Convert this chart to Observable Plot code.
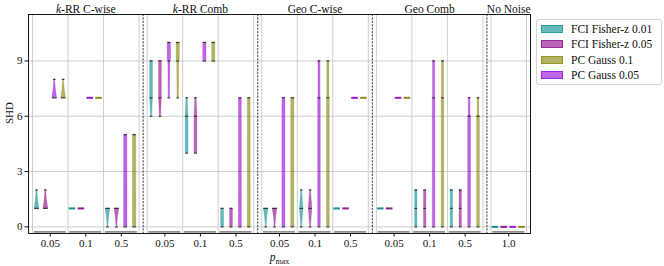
<!DOCTYPE html>
<html><head><meta charset="utf-8">
<script src="https://cdn.jsdelivr.net/npm/d3@7"></script>
<script src="https://cdn.jsdelivr.net/npm/@observablehq/plot@0.6"></script>
<style>
body{margin:0;background:#fff;}
#wrap{position:relative;width:664px;height:266px;font-family:"Liberation Serif",serif;}
#legend{position:absolute;left:536px;top:19px;width:124px;height:64px;border:1px solid #d4d4d4;border-radius:3px;background:#fff;}
.row{position:absolute;left:4px;height:15px;display:flex;align-items:center;font-size:11.5px;color:#111;white-space:nowrap;}
.sw{width:22px;height:8px;margin-right:8px;box-sizing:border-box;}
</style></head><body><div id="wrap"></div>
<script>
// ---- data ----
const groups = ["k-RR C-wise", "k-RR Comb", "Geo C-wise", "Geo Comb", "No Noise"];
const pmaxLevels = [["0.05","0.1","0.5"],["0.05","0.1","0.5"],["0.05","0.1","0.5"],["0.05","0.1","0.5"],["1.0"]];
const methodKeys = ["F01","F05","P10","P05"];
const methodLabels = ["FCI Fisher-z 0.01","FCI Fisher-z 0.05","PC Gauss 0.1","PC Gauss 0.05"];
const methodColors = ["#008b8b","#8b008b","#808000","#9400d3"];
const slotOrder = ["F01","F05","P05","P10"];
const yTicks = [0,3,6,9];

// [pmax, method, violin profile [SHD, relative width], marker SHD values]
const kRRCwise = [
  ["0.05","F01",[[1,1],[1.5,0.45],[2,0.15]],[1,2]],
  ["0.05","F05",[[1,1],[1.5,0.45],[2,0.15]],[1,2]],
  ["0.05","P05",[[7,1],[7.5,0.45],[8,0.15]],[7,8]],
  ["0.05","P10",[[7,1],[7.5,0.45],[8,0.15]],[7,8]],
  ["0.1","F01",[[1]],[]],
  ["0.1","F05",[[1]],[]],
  ["0.1","P05",[[7]],[]],
  ["0.1","P10",[[7]],[]],
  ["0.5","F01",[[0,0.15],[0.5,0.45],[1,1]],[0,1]],
  ["0.5","F05",[[0,0.15],[0.5,0.45],[1,1]],[0,1]],
  ["0.5","P05",[[0,0.72],[5,0.7]],[0,5]],
  ["0.5","P10",[[0,0.75],[5,0.72]],[0,5]]
];
const kRRComb = [
  ["0.05","F01",[[6,0.25],[7,0.6],[9,0.6]],[6,7,9]],
  ["0.05","F05",[[6,0.25],[7,0.6],[9,0.6]],[6,7,9]],
  ["0.05","P05",[[7,0.3],[8.9,0.4],[9.1,0.7],[10,0.7]],[7,9,10]],
  ["0.05","P10",[[7,0.3],[8.9,0.4],[9.1,0.7],[10,0.7]],[7,9,10]],
  ["0.1","F01",[[4,0.6],[6,0.6],[6.9,0.3],[7,0.25]],[4,6,7]],
  ["0.1","F05",[[4,0.6],[6,0.6],[6.9,0.3],[7,0.25]],[4,6,7]],
  ["0.1","P05",[[9,0.7],[10,0.7]],[9,10]],
  ["0.1","P10",[[9,0.7],[10,0.7]],[9,10]],
  ["0.5","F01",[[0,0.6],[1,0.6]],[0,1]],
  ["0.5","F05",[[0,0.6],[1,0.6]],[0,1]],
  ["0.5","P05",[[0,0.65],[7,0.6]],[0,7]],
  ["0.5","P10",[[0,0.65],[7,0.6]],[0,7]]
];
const geoCwise = [
  ["0.05","F01",[[0,0.15],[0.5,0.45],[1,1]],[0,1]],
  ["0.05","F05",[[0,0.15],[0.5,0.45],[1,1]],[0,1]],
  ["0.05","P05",[[0,0.65],[7,0.65]],[0,7]],
  ["0.05","P10",[[0,0.7],[7,0.7]],[0,7]],
  ["0.1","F01",[[0,0.15],[1,0.75],[2,0.15]],[0,1,2]],
  ["0.1","F05",[[0,0.15],[1,0.75],[2,0.15]],[0,1,2]],
  ["0.1","P05",[[0,0.55],[7,0.55],[7.1,0.4],[9,0.4]],[0,7,9]],
  ["0.1","P10",[[0,0.6],[7,0.6],[7.1,0.45],[9,0.45]],[0,7,9]],
  ["0.5","F01",[[1]],[]],
  ["0.5","F05",[[1]],[]],
  ["0.5","P05",[[7]],[]],
  ["0.5","P10",[[7]],[]]
];
const geoComb = [
  ["0.05","F01",[[1]],[]],
  ["0.05","F05",[[1]],[]],
  ["0.05","P05",[[7]],[]],
  ["0.05","P10",[[7]],[]],
  ["0.1","F01",[[0,0.5],[2,0.5]],[0,1,2]],
  ["0.1","F05",[[0,0.5],[2,0.5]],[0,1,2]],
  ["0.1","P05",[[0,0.55],[7,0.55],[7.1,0.45],[9,0.45]],[0,7,9]],
  ["0.1","P10",[[0,0.55],[7,0.55],[7.1,0.45],[9,0.45]],[0,7,9]],
  ["0.5","F01",[[0,0.5],[2,0.5]],[0,1,2]],
  ["0.5","F05",[[0,0.5],[2,0.5]],[0,1,2]],
  ["0.5","P05",[[0,0.6],[6,0.6],[6.1,0.35],[7,0.35]],[0,6,7]],
  ["0.5","P10",[[0,0.6],[6,0.6],[6.1,0.35],[7,0.35]],[0,6,7]]
];
const noNoise = [
  ["1.0","F01",[[0]],[]],
  ["1.0","F05",[[0]],[]],
  ["1.0","P05",[[0]],[]],
  ["1.0","P10",[[0]],[]]
];
const groupData = [kRRCwise, kRRComb, geoCwise, geoComb, noNoise];

// ---- layout (category units) ----
const W = 664, H = 266, mL = 28, mR = 134, mT = 14, mB = 33;
const PAD = 0.113, SLOT = 0.25;
const starts = []; let acc = 0;
pmaxLevels.forEach(l => { starts.push(acc); acc += l.length + 2 * PAD; });
const total = acc;
const pxU = total / (W - mL - mR); // units per pixel
const HALF = 2.3 * pxU;

const cats = [];
pmaxLevels.forEach((l, g) => l.forEach((p, i) => cats.push({g, p, x: starts[g] + PAD + i + 0.5})));
const catX = (g, p) => starts[g] + PAD + pmaxLevels[g].indexOf(p) + 0.5;
const boundaries = [];
pmaxLevels.forEach((l, g) => { for (let i = 0; i <= l.length; i++) boundaries.push(starts[g] + PAD + i); });
const tickLabel = new Map(cats.map(c => [c.x, c.p]));
const groupCenters = groups.map((name, g) => ({name, x: starts[g] + (pmaxLevels[g].length + 2 * PAD) / 2}));

function widthAt(prof, y) {
  if (y <= prof[0][0]) return prof[0][1];
  for (let i = 1; i < prof.length; i++) {
    const [y0, w0] = prof[i - 1], [y1, w1] = prof[i];
    if (y <= y1) return w0 + (w1 - w0) * (y - y0) / (y1 - y0);
  }
  return prof[prof.length - 1][1];
}

const areaPts = [], markers = [], dashes = [];
groupData.forEach((arr, g) => arr.forEach(([p, m, prof, marks], k) => {
  const cx = catX(g, p) + (slotOrder.indexOf(m) - 1.5) * SLOT;
  const id = g + "-" + k;
  if (prof.length === 1) {
    dashes.push({m, y: prof[0][0], x1: cx - 3.3 * pxU, x2: cx + 3.3 * pxU});
    return;
  }
  prof.forEach(([y, w]) => areaPts.push({id, m, y, x1: cx - w * HALF, x2: cx + w * HALF}));
  marks.forEach(y => {
    const hw = Math.max(widthAt(prof, y) * HALF, 1.3 * pxU);
    markers.push({y, x1: cx - hw, x2: cx + hw});
  });
}));

const svg = Plot.plot({
  width: W, height: H,
  marginLeft: mL, marginRight: mR, marginTop: mT, marginBottom: mB,
  style: {fontFamily: "Liberation Serif, serif", fontSize: "11px", background: "white", color: "#111"},
  x: {domain: [0, total]},
  y: {domain: [-0.36, 11.52]},
  color: {domain: methodKeys, range: methodColors},
  marks: [
    Plot.ruleY(yTicks, {stroke: "#c8c8c8", strokeWidth: 0.9}),
    Plot.ruleX(boundaries, {stroke: "#c8c8c8", strokeWidth: 0.9}),
    Plot.ruleY(cats, {y: () => -0.27, x1: c => c.x - 0.45, x2: c => c.x + 0.45, stroke: "#8e8e8e", strokeWidth: 1.6}),
    Plot.ruleX(starts.slice(1), {stroke: "#222", strokeWidth: 0.9, strokeDasharray: "2.2,1.2"}),
    Plot.areaX(areaPts, {x1: "x1", x2: "x2", y: "y", z: "id", fill: "m", fillOpacity: 0.6, stroke: "m", strokeOpacity: 0.5, strokeWidth: 0.5}),
    Plot.ruleY(markers, {y: "y", x1: "x1", x2: "x2", stroke: "#222", strokeWidth: 1.2, strokeOpacity: 0.85}),
    Plot.ruleY(dashes, {y: "y", x1: "x1", x2: "x2", stroke: "m", strokeWidth: 2, strokeOpacity: 0.9}),
    Plot.frame({stroke: "#000", strokeWidth: 0.9}),
    Plot.axisY(yTicks, {tickSize: 3.5, tickPadding: 2.5, label: null, fontSize: 11}),
    Plot.axisX(cats.map(c => c.x), {tickSize: 3.5, tickPadding: 2, label: null, fontSize: 11, tickFormat: d => tickLabel.get(d)}),
    Plot.text(groupCenters, {x: "x", text: "name", frameAnchor: "top", lineAnchor: "middle", dy: -5.5, fontSize: 11.5}),
    Plot.text(["SHD"], {frameAnchor: "left", lineAnchor: "middle", dx: -19, rotate: -90, fontSize: 11}),
    Plot.text(["pmax"], {frameAnchor: "bottom", lineAnchor: "middle", dy: 24, fontSize: 11.5})
  ]
});

// rich text: italic k in titles, italic p with subscript max
d3.select(svg).selectAll("text").each(function () {
  const t = this.textContent;
  if (t.startsWith("k-RR")) {
    this.textContent = "";
    d3.select(this).append("tspan").attr("font-style", "italic").text("k");
    d3.select(this).append("tspan").text(t.slice(1));
  } else if (t === "pmax") {
    this.textContent = "";
    d3.select(this).append("tspan").attr("font-style", "italic").text("p");
    d3.select(this).append("tspan").attr("font-size", "8px").attr("dy", "3").text("max");
  }
});

const wrap = document.getElementById("wrap");
wrap.appendChild(svg);
const leg = document.createElement("div");
leg.id = "legend";
methodLabels.forEach((lab, i) => {
  const row = document.createElement("div");
  row.className = "row";
  row.style.top = (1 + i * 15.5) + "px";
  const sw = document.createElement("span");
  sw.className = "sw";
  const c = d3.color(methodColors[i]);
  c.opacity = 0.6;
  sw.style.background = c.formatRgb();
  sw.style.border = "1px solid " + c.formatRgb();
  row.appendChild(sw);
  row.appendChild(document.createTextNode(lab));
  leg.appendChild(row);
});
wrap.appendChild(leg);
</script></body></html>
